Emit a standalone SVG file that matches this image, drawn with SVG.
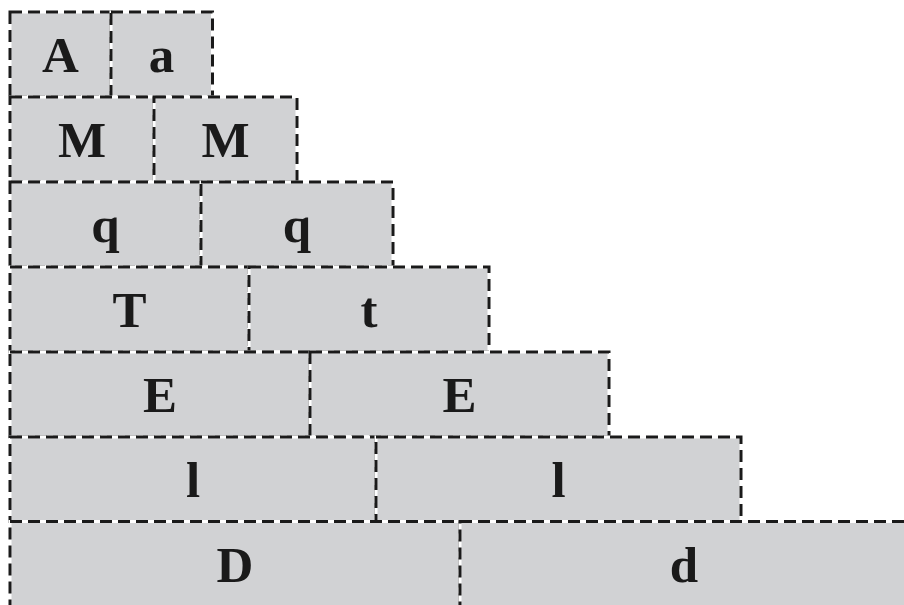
<svg xmlns="http://www.w3.org/2000/svg" width="904" height="605" viewBox="0 0 904 605">
<style>
.b{fill:#d1d2d4;stroke:#ffffff;stroke-width:3}
.d{fill:none;stroke:#1a1a1a;stroke-width:3;stroke-dasharray:12 6}
.t{font-family:"Liberation Serif","DejaVu Serif",serif;font-weight:bold;font-size:51px;fill:#1a1a1a;text-anchor:middle}
</style>
<rect width="904" height="605" fill="#ffffff"/>
<g id="row1">
<g id="n1a"><rect class="b" x="10" y="12" width="101" height="85"/><rect class="d" x="10" y="12" width="101" height="85"/><text class="t" x="60.5" y="72">A</text></g>
<g id="n1b"><rect class="b" x="111" y="12" width="101.5" height="85"/><rect class="d" x="111" y="12" width="101.5" height="85"/><text class="t" x="161.5" y="72">a</text></g>
</g>
<g id="row2">
<g id="n2a"><rect class="b" x="10" y="97" width="144" height="85"/><rect class="d" x="10" y="97" width="144" height="85"/><text class="t" x="82" y="157">M</text></g>
<g id="n2b"><rect class="b" x="154" y="97" width="143" height="85"/><rect class="d" x="154" y="97" width="143" height="85"/><text class="t" x="225.5" y="157">M</text></g>
</g>
<g id="row3">
<g id="n3a"><rect class="b" x="10" y="182" width="191" height="85"/><rect class="d" x="10" y="182" width="191" height="85"/><text class="t" x="105.5" y="242">q</text></g>
<g id="n3b"><rect class="b" x="201" y="182" width="192" height="85"/><rect class="d" x="201" y="182" width="192" height="85"/><text class="t" x="297" y="242">q</text></g>
</g>
<g id="row4">
<g id="n4a"><rect class="b" x="10" y="267" width="239" height="85"/><rect class="d" x="10" y="267" width="239" height="85"/><text class="t" x="129.5" y="327">T</text></g>
<g id="n4b"><rect class="b" x="249" y="267" width="240" height="85"/><rect class="d" x="249" y="267" width="240" height="85"/><text class="t" x="369" y="327">t</text></g>
</g>
<g id="row5">
<g id="n5a"><rect class="b" x="10" y="352" width="300" height="85"/><rect class="d" x="10" y="352" width="300" height="85"/><text class="t" x="160" y="412">E</text></g>
<g id="n5b"><rect class="b" x="310" y="352" width="299" height="85"/><rect class="d" x="310" y="352" width="299" height="85"/><text class="t" x="459.5" y="412">E</text></g>
</g>
<g id="row6">
<g id="n6a"><rect class="b" x="10" y="437" width="366" height="84.5"/><rect class="d" x="10" y="437" width="366" height="84.5"/><text class="t" x="193" y="497">l</text></g>
<g id="n6b"><rect class="b" x="376" y="437" width="365" height="84.5"/><rect class="d" x="376" y="437" width="365" height="84.5"/><text class="t" x="558.5" y="497">l</text></g>
</g>
<g id="row7">
<g id="n7a"><rect class="b" x="10" y="521.5" width="450" height="90"/><rect class="d" x="10" y="521.5" width="450" height="90"/><text class="t" x="235" y="582">D</text></g>
<g id="n7b"><rect class="b" x="460" y="521.5" width="460" height="90"/><rect class="d" x="460" y="521.5" width="460" height="90"/><text class="t" x="684" y="582">d</text></g>
</g>
<g id="connectors"></g>
</svg>
